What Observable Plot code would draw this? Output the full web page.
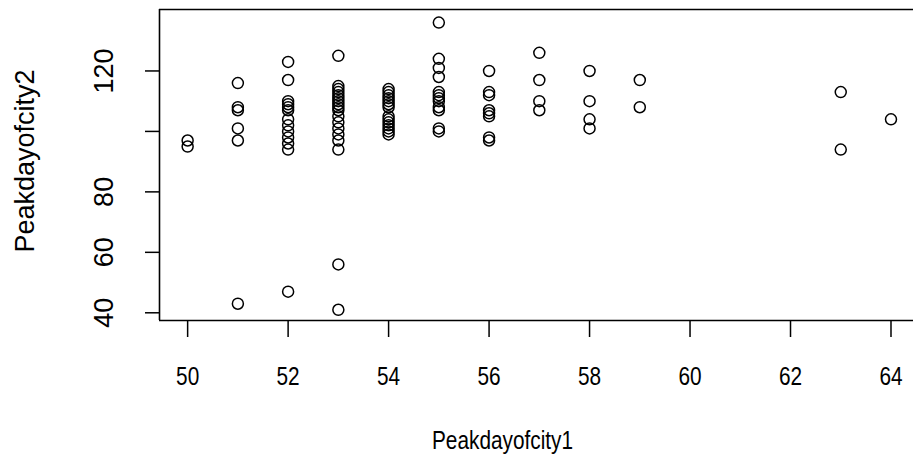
<!DOCTYPE html>
<html>
<head>
<meta charset="utf-8">
<script src="https://cdn.jsdelivr.net/npm/d3@7"></script>
<script src="https://cdn.jsdelivr.net/npm/@observablehq/plot@0.6"></script>
<style>
  html, body { margin: 0; padding: 0; background: #ffffff; }
</style>
</head>
<body>
<div id="chart"></div>
<script>
// ---- data ----
const peakdayCity1 = [
  50, 50,
  51, 51, 51, 51, 51, 51,
  52, 52, 52, 52, 52, 52, 52, 52, 52, 52, 52, 52, 52,
  53, 53, 53, 53, 53, 53, 53, 53, 53, 53, 53, 53, 53, 53, 53, 53, 53, 53,
  54, 54, 54, 54, 54, 54, 54, 54, 54, 54, 54, 54, 54, 54,
  55, 55, 55, 55, 55, 55, 55, 55, 55, 55, 55, 55,
  56, 56, 56, 56, 56, 56, 56, 56,
  57, 57, 57, 57,
  58, 58, 58, 58,
  59, 59,
  63, 63,
  64
];
const peakdayCity2 = [
  97, 95,
  116, 108, 107, 101, 97, 43,
  123, 117, 110, 109, 108, 107, 104, 102, 100, 98, 96, 94, 47,
  125, 115, 114, 113, 112, 111, 110, 109, 108, 107, 105, 103, 101, 99, 97, 94, 56, 41,
  114, 113, 112, 111, 110, 109, 108, 105, 104, 103, 102, 101, 100, 99,
  136, 124, 121, 118, 113, 112, 111, 110, 108, 107, 101, 100,
  120, 113, 112, 107, 106, 105, 98, 97,
  126, 117, 110, 107,
  120, 110, 104, 101,
  117, 108,
  113, 94,
  104
];
const xTicks = [50, 52, 54, 56, 58, 60, 62, 64];
const yTicks = [40, 60, 80, 100, 120];
const yTickLabels = ["40", "60", "80", "", "120"];
const xTitle = ["Peakdayofcity1"];
const yTitle = ["Peakdayofcity2"];

const points = peakdayCity1.map((v, i) => ({city1: v, city2: peakdayCity2[i]}));
const xDomain = [49.44, 64.448];
const yDomain = [37.45, 140.33];

const chart = Plot.plot({
  width: 913,
  height: 462,
  marginLeft: 159,
  marginRight: 0,
  marginTop: 9,
  marginBottom: 142,
  style: {fontFamily: "'Liberation Sans', Arial, sans-serif", fontSize: "26px", color: "#000", background: "#fff"},
  x: {domain: xDomain, label: null},
  y: {domain: yDomain, label: null},
  marks: [
    Plot.ruleY([yDomain[0], yDomain[1]], {stroke: "#000", strokeWidth: 1.6}),
    Plot.ruleX([xDomain[0]], {stroke: "#000", strokeWidth: 1.6}),
    Plot.axisX({ticks: xTicks, tickSize: 17, tickPadding: 28.7, tickFormat: d => String(d), strokeWidth: 1.5, label: null}),
    Plot.axisY({ticks: yTicks, tickSize: 14, tickPadding: 33, tickRotate: -90, fontSize: 27,
      tickFormat: d => yTickLabels[yTicks.indexOf(d)], strokeWidth: 1.5, label: null}),
    Plot.dot(points, {x: "city1", y: "city2", r: 5.5, stroke: "#000", strokeWidth: 1.5, fill: "none"}),
    Plot.text(xTitle, {frameAnchor: "bottom", text: d => d, textAnchor: "middle", dx: -34, dy: 120, lineAnchor: "middle"}),
    Plot.text(yTitle, {frameAnchor: "left", text: d => d, textAnchor: "middle", rotate: -90, fontSize: 27,
      dx: -134.3, dy: -4, lineAnchor: "middle"})
  ]
});

document.getElementById("chart").append(chart);

// The reference's horizontal text is condensed: squash each horizontal label about its centre.
const squash = 0.8;
const svg = chart.tagName.toLowerCase() === "svg" ? chart : chart.querySelector("svg");
svg.querySelectorAll("text").forEach(t => {
  const tr = (t.getAttribute("transform") || "") + " " + (t.parentNode.getAttribute("transform") || "");
  if (/rotate\(\s*-?[1-9]/.test(tr)) return; // leave rotated labels as they are
  const r = t.getBoundingClientRect();
  if (!r.width) return;
  const parent = t.parentNode;
  const p = svg.createSVGPoint();
  p.x = r.x + r.width / 2; p.y = r.y + r.height / 2;
  const q = p.matrixTransform(parent.getScreenCTM().inverse());
  const g = document.createElementNS("http://www.w3.org/2000/svg", "g");
  g.setAttribute("transform", `translate(${q.x},0) scale(${squash},1) translate(${-q.x},0)`);
  parent.insertBefore(g, t);
  g.appendChild(t);
});
</script>
</body>
</html>
